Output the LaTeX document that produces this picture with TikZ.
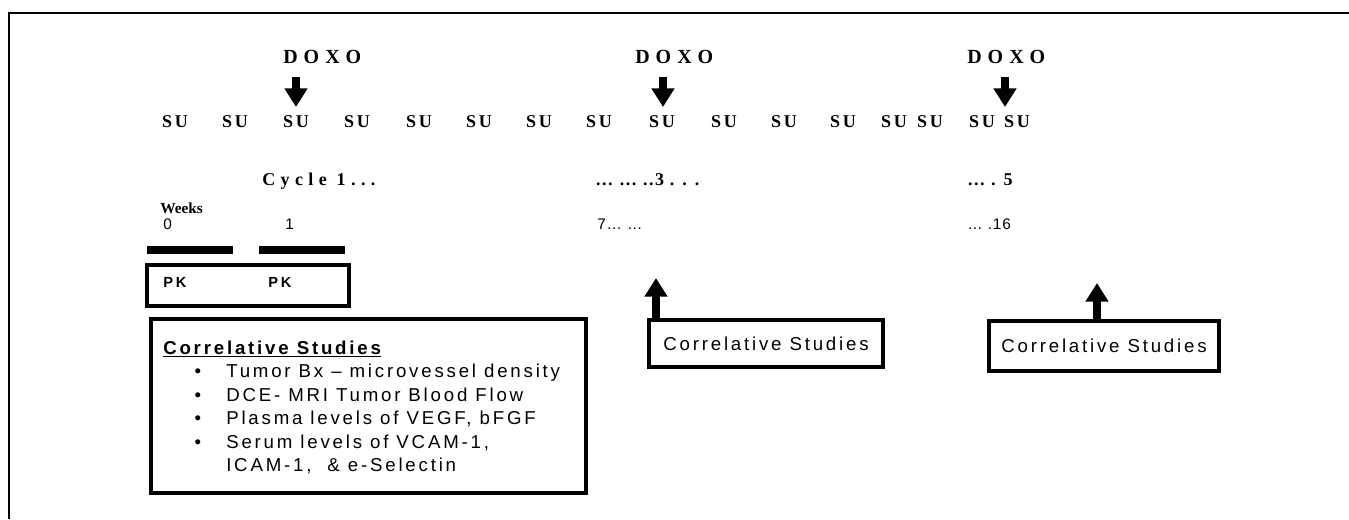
\documentclass[tikz,border=0pt]{standalone}
\usepackage{fontspec}
\setmainfont{Liberation Serif}
\setsansfont{Liberation Sans}
\newfontfamily\serifwide[LetterSpace=30]{Liberation Serif}
\newfontfamily\serifmid[LetterSpace=16]{Liberation Serif}
\newfontfamily\seriftight[LetterSpace=8]{Liberation Serif}
\newfontfamily\sanswide[LetterSpace=15]{Liberation Sans}
\newfontfamily\sanspk[LetterSpace=20]{Liberation Sans}
\newfontfamily\sanssmall[LetterSpace=6]{Liberation Sans}
\usetikzlibrary{arrows.meta}
\newcommand\fdoxo{\serifwide\bfseries\fontsize{15}{18}\selectfont}
\newcommand\fsu{\serifmid\bfseries\fontsize{13.5}{16}\selectfont}
\newcommand\fcyc{\serifwide\bfseries\fontsize{13.5}{16}\selectfont}
\newcommand\fcycb{\seriftight\bfseries\fontsize{13.5}{16}\selectfont}
\newcommand\fweeks{\rmfamily\bfseries\fontsize{11.5}{13}\selectfont}
\newcommand\fnum{\sanssmall\fontsize{11.5}{13}\selectfont}
\newcommand\fpk{\sanspk\bfseries\fontsize{11}{13}\selectfont}
\newcommand\fboxtxt{\sanswide\fontsize{14}{16}\selectfont}
\tikzset{
  lbl/.style={inner sep=0pt, anchor=base west},
  doxolbl/.style={lbl, font=\fdoxo},
  sulbl/.style={inner sep=0pt, anchor=base, font=\fsu},
  cyclbl/.style={lbl, font=\fcyc},
  cycblbl/.style={lbl, font=\fcycb},
  numlbl/.style={lbl, font=\fnum},
  pklbl/.style={lbl, font=\fpk},
  listlbl/.style={lbl, font=\fboxtxt},
  bul/.style={inner sep=0pt, anchor=base, font=\fboxtxt},
  boxst/.style={draw, line width=3pt, inner sep=0pt},
  bar/.style={fill=black, inner sep=0pt, minimum width=64.5pt, minimum height=6pt},
  bigarrow/.style={line width=5.5pt, -{Triangle[length=14pt,width=16.5pt]}},
}
\begin{document}
\begin{tikzpicture}[x=0.75pt,y=-0.75pt]
\useasboundingbox (0,0) rectangle (1349,519);
% frame
\draw[line width=0.9pt] (9,519) -- (9,13) -- (1349,13);

% DOXO labels
\node[doxolbl] (dx1) at (283,63) {DOXO};
\node[doxolbl] (dx2) at (635,63) {DOXO};
\node[doxolbl] (dx3) at (967,63) {DOXO};
\coordinate (d1t) at (296,77); \coordinate (d1h) at (296,107);
\coordinate (d2t) at (663,77); \coordinate (d2h) at (663,107);
\coordinate (d3t) at (1005,77); \coordinate (d3h) at (1005,107);
\draw[bigarrow] (d1t) -- (d1h);
\draw[bigarrow] (d2t) -- (d2h);
\draw[bigarrow] (d3t) -- (d3h);

% SU row
\foreach \x [count=\i] in {175,235,296,357,419,479,539,599,662,724,784,843,894,930,982,1017}
  \node[sulbl] (su\i) at (\x,127) {SU};

% cycles
\node[cyclbl] (c1) at (262,185) {Cycle 1...};
\node[cycblbl] (c3) at (595,185) {… … ..3 . . .};
\node[cycblbl] (c5) at (967,185) {… . 5};

% weeks
\node[lbl, font=\fweeks] (wk) at (160,213) {Weeks};
\node[numlbl] (w0) at (163,229) {0};
\node[numlbl] (w1) at (285,229) {1};
\node[numlbl] (w7) at (597,229) {7… …};
\node[numlbl] (w16) at (967,229) {… .16};

% PK bars and box
\node[bar] (bar1) at (190,250) {};
\node[bar] (bar2) at (302,250) {};
\node[boxst, minimum width=151.5pt, minimum height=30.75pt] (pkbox) at (248,285.5) {};
\node[pklbl] (pk1) at (163,287) {PK};
\node[pklbl] (pk2) at (268,287) {PK};

% Correlative studies box 1
\node[boxst, minimum width=326.25pt, minimum height=130.5pt] (cs1) at (368.5,406) {};
\node[lbl, font={\sanswide\bfseries\fontsize{14}{16}\selectfont}] (cst) at (163,354) {\underline{Correlative Studies}};
\foreach \y/\t [count=\i] in {377/{Tumor Bx – microvessel density},401/{DCE- MRI Tumor Blood Flow},424/{Plasma levels of VEGF, bFGF},448/{Serum levels of VCAM-1,}}{
  \node[bul] (b\i) at (198,\y) {•};
  \node[listlbl] (l\i) at (226,\y) {\t};
}
\node[listlbl] (l5) at (226,471) {ICAM-1,\ \ \& e-Selectin};

% Correlative studies boxes 2 and 3
\node[boxst, minimum width=175.5pt, minimum height=35.25pt, font=\fboxtxt] (cs2) at (766,343.5) {Correlative Studies};
\node[boxst, minimum width=172.5pt, minimum height=37.5pt, font=\fboxtxt] (cs3) at (1104,346) {Correlative Studies};
\coordinate (u2) at (656,278);
\coordinate (u3) at (1097,283);
\draw[bigarrow] (cs2.north -| u2) -- (u2);
\draw[bigarrow] (cs3.north -| u3) -- (u3);
\end{tikzpicture}
\end{document}
